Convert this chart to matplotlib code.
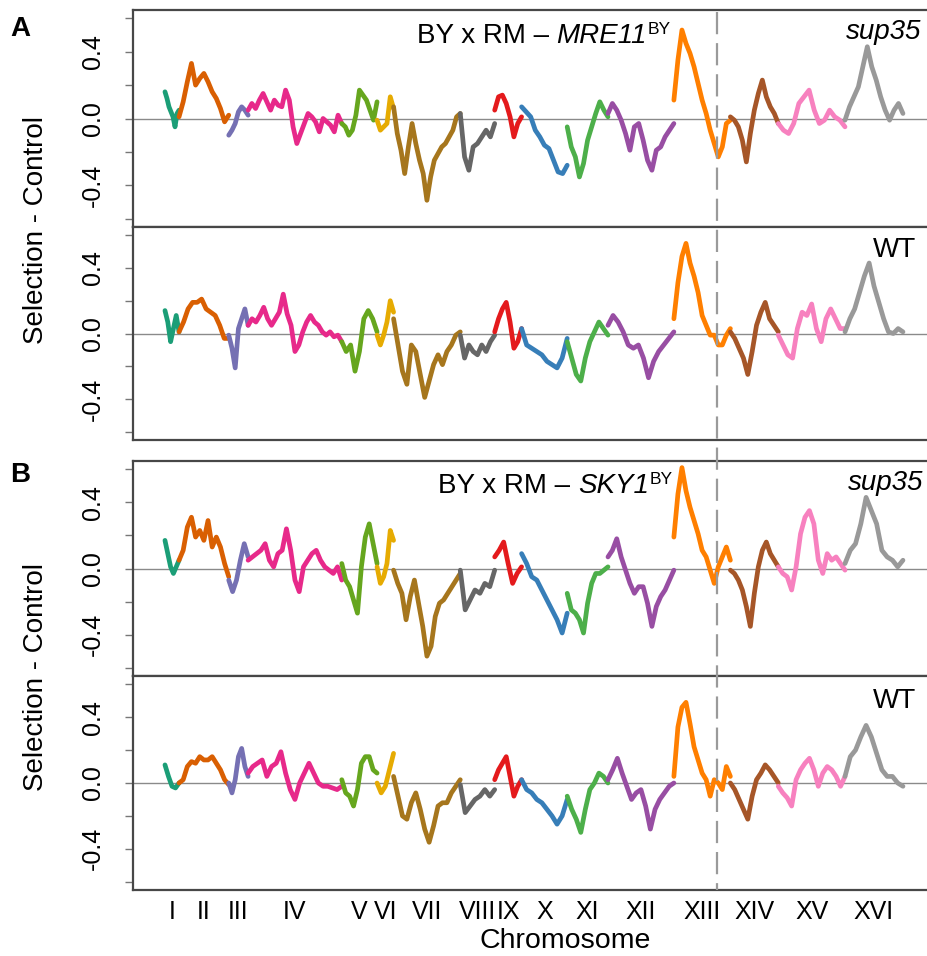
import matplotlib
matplotlib.use("Agg")
import matplotlib.pyplot as plt
import numpy as np
from matplotlib.lines import Line2D
from matplotlib.transforms import blended_transform_factory

plt.rcParams["font.family"] = ["Liberation Sans", "DejaVu Sans"]

# ---- chromosomes (S. cerevisiae, kb) ----
chrom_names = ["I", "II", "III", "IV", "V", "VI", "VII", "VIII", "IX", "X",
               "XI", "XII", "XIII", "XIV", "XV", "XVI"]
chrom_len_kb = [230, 813, 317, 1532, 577, 270, 1091, 563, 440, 746,
                667, 1078, 924, 784, 1091, 948]
chrom_colors = ["#1B9E77", "#D95F02", "#7570B3", "#E7298A", "#66A61E", "#E6AB02",
                "#A6761D", "#666666", "#E41A1C", "#377EB8", "#4DAF4A", "#984EA3",
                "#FF7F00", "#A65628", "#F781BF", "#999999"]

# marked locus on chromosome XIII (kb)
marker_chrom = "XIII"
marker_pos_kb = 700

# ---- allele frequency difference (selection - control) along each chromosome ----
mre11_sup35 = [
    [0.16, 0.12, 0.07, 0.04, 0.01, -0.05, 0.03, 0.05],
    [0.01, 0.10, 0.22, 0.33, 0.20, 0.24, 0.27, 0.22, 0.16, 0.12, 0.06, -0.02, 0.02],
    [-0.10, -0.07, -0.03, 0.04, 0.07, 0.05, 0.02],
    [0.05, 0.09, 0.06, 0.11, 0.15, 0.10, 0.05, 0.11, 0.08, 0.07, 0.17, 0.11, -0.05,
     -0.15, -0.09, -0.03, 0.03, 0.01, -0.02, -0.08, 0.00, -0.02, -0.04, -0.08, 0.02, -0.03],
    [-0.03, -0.05, -0.10, -0.07, 0.02, 0.17, 0.14, 0.11, 0.05, -0.01, 0.10],
    [-0.01, -0.07, -0.05, -0.03, 0.13, 0.06],
    [0.07, -0.09, -0.19, -0.33, -0.17, -0.03, -0.15, -0.25, -0.33, -0.49, -0.35, -0.25,
     -0.21, -0.17, -0.15, -0.11, -0.07, 0.01, 0.03],
    [0.03, -0.23, -0.31, -0.17, -0.15, -0.11, -0.07, -0.11, -0.03],
    [0.05, 0.13, 0.14, 0.09, 0.01, -0.11, -0.03, 0.01],
    [0.07, 0.04, 0.01, -0.07, -0.11, -0.16, -0.18, -0.25, -0.32, -0.33, -0.28],
    [-0.05, -0.17, -0.23, -0.35, -0.27, -0.13, -0.05, 0.03, 0.10, 0.05, 0.01],
    [0.03, 0.09, 0.05, -0.01, -0.09, -0.19, -0.05, -0.03, -0.13, -0.25, -0.31, -0.19,
     -0.17, -0.11, -0.07, -0.03],
    [0.11, 0.35, 0.53, 0.45, 0.39, 0.31, 0.21, 0.11, 0.03, -0.07, -0.15, -0.23, -0.17,
     -0.03, -0.01],
    [0.01, -0.01, -0.05, -0.13, -0.26, -0.09, 0.05, 0.15, 0.23, 0.13, 0.07, 0.03, -0.03],
    [-0.03, -0.07, -0.09, -0.03, 0.09, 0.13, 0.17, 0.05, -0.03, -0.01, 0.05, 0.01, -0.01, -0.05],
    [-0.01, 0.07, 0.13, 0.19, 0.31, 0.43, 0.31, 0.23, 0.13, 0.05, -0.01, 0.05, 0.09, 0.03],
]

mre11_wt = [
    [0.14, 0.07, -0.05, 0.03, 0.11, 0.01],
    [0.01, 0.07, 0.15, 0.19, 0.19, 0.21, 0.15, 0.13, 0.11, 0.05, -0.03, -0.03],
    [-0.01, -0.09, -0.21, 0.03, 0.09, 0.15, 0.05],
    [0.05, 0.09, 0.07, 0.11, 0.16, 0.09, 0.05, 0.09, 0.13, 0.24, 0.12, 0.05, -0.11,
     -0.07, 0.01, 0.07, 0.11, 0.07, 0.05, 0.01, -0.01, 0.01, -0.02, -0.01, -0.05],
    [-0.05, -0.11, -0.07, -0.23, -0.11, 0.09, 0.14, 0.09, 0.01],
    [-0.01, -0.07, -0.01, 0.07, 0.20, 0.13],
    [0.09, -0.07, -0.23, -0.31, -0.07, -0.11, -0.25, -0.39, -0.29, -0.19, -0.13, -0.19,
     -0.11, -0.07, -0.01, 0.01],
    [-0.01, -0.15, -0.07, -0.11, -0.13, -0.07, -0.11, -0.05, -0.01],
    [0.01, 0.09, 0.15, 0.19, 0.07, -0.09, -0.05, 0.03],
    [0.03, -0.07, -0.09, -0.11, -0.13, -0.17, -0.19, -0.21, -0.15, -0.03],
    [-0.05, -0.15, -0.25, -0.29, -0.15, -0.05, 0.01, 0.07, 0.03, -0.01],
    [0.05, 0.11, 0.07, 0.01, -0.07, -0.09, -0.07, -0.15, -0.27, -0.17, -0.11, -0.07, -0.03, 0.01],
    [0.09, 0.31, 0.47, 0.55, 0.43, 0.35, 0.25, 0.11, 0.05, -0.01, -0.01, -0.07, -0.07, -0.01, 0.03],
    [0.01, -0.03, -0.09, -0.15, -0.25, -0.11, 0.05, 0.13, 0.19, 0.09, 0.05, 0.01],
    [-0.01, -0.07, -0.13, -0.15, 0.03, 0.13, 0.11, 0.18, 0.03, -0.05, 0.09, 0.15, 0.09, 0.03, 0.03],
    [0.01, 0.09, 0.15, 0.25, 0.35, 0.43, 0.29, 0.19, 0.09, 0.01, 0.00, 0.03, 0.01],
]

sky1_sup35 = [
    [0.17, 0.09, 0.01, -0.03, 0.01, 0.05],
    [0.05, 0.11, 0.25, 0.31, 0.19, 0.23, 0.17, 0.29, 0.13, 0.19, 0.13, 0.03, -0.05],
    [-0.07, -0.14, -0.07, 0.05, 0.15, 0.07],
    [0.05, 0.07, 0.09, 0.11, 0.15, 0.05, 0.01, 0.09, 0.11, 0.24, 0.11, -0.07, -0.14,
     0.01, 0.05, 0.09, 0.11, 0.05, 0.01, -0.01, -0.03, 0.01, -0.07],
    [0.03, -0.07, -0.11, -0.19, -0.27, 0.01, 0.19, 0.27, 0.15, 0.03],
    [0.01, -0.09, -0.05, 0.03, 0.23, 0.17],
    [-0.01, -0.09, -0.15, -0.31, -0.17, -0.07, -0.21, -0.35, -0.53, -0.47, -0.29, -0.21,
     -0.19, -0.15, -0.11, -0.07, -0.03],
    [-0.01, -0.25, -0.19, -0.13, -0.15, -0.09, -0.11, -0.01],
    [0.07, 0.11, 0.16, 0.03, -0.09, -0.03, 0.01],
    [0.09, 0.03, -0.05, -0.07, -0.13, -0.19, -0.25, -0.31, -0.39, -0.27],
    [-0.15, -0.25, -0.27, -0.31, -0.39, -0.21, -0.09, -0.03, -0.03, -0.01, 0.01],
    [0.07, 0.11, 0.18, 0.07, -0.01, -0.09, -0.15, -0.11, -0.11, -0.21, -0.35, -0.23,
     -0.17, -0.13, -0.07, -0.01],
    [0.19, 0.45, 0.61, 0.47, 0.37, 0.29, 0.21, 0.11, 0.07, -0.01, -0.09, 0.01, 0.07, 0.13, 0.05],
    [-0.01, -0.03, -0.07, -0.13, -0.23, -0.35, -0.15, 0.01, 0.11, 0.16, 0.09, 0.05, 0.01],
    [0.01, -0.03, -0.05, -0.13, 0.01, 0.21, 0.31, 0.35, 0.27, 0.05, -0.03, 0.09, 0.05,
     0.07, 0.03, -0.01],
    [0.03, 0.11, 0.15, 0.27, 0.43, 0.35, 0.27, 0.11, 0.07, 0.05, 0.01, 0.05],
]

sky1_wt = [
    [0.11, 0.04, -0.02, -0.03, 0.00],
    [0.00, 0.02, 0.10, 0.13, 0.12, 0.16, 0.14, 0.14, 0.16, 0.12, 0.08, 0.02, -0.01],
    [0.00, -0.06, 0.02, 0.16, 0.21, 0.10, 0.04],
    [0.06, 0.10, 0.12, 0.14, 0.04, 0.10, 0.12, 0.19, 0.06, -0.04, -0.10, 0.00, 0.06,
     0.12, 0.06, 0.00, -0.02, -0.02, -0.03, -0.04, -0.02],
    [0.02, -0.06, -0.08, -0.14, -0.04, 0.12, 0.16, 0.16, 0.08, 0.06],
    [0.00, -0.06, -0.02, 0.08, 0.18],
    [0.04, -0.08, -0.20, -0.22, -0.12, -0.06, -0.16, -0.28, -0.36, -0.26, -0.14, -0.12,
     -0.12, -0.06, -0.02, 0.02],
    [-0.01, -0.18, -0.14, -0.10, -0.08, -0.04, -0.08, -0.04],
    [0.02, 0.08, 0.12, 0.16, 0.04, -0.08, -0.02, 0.02],
    [0.02, -0.04, -0.06, -0.10, -0.12, -0.16, -0.20, -0.25, -0.20, -0.10],
    [-0.08, -0.16, -0.22, -0.30, -0.16, -0.04, 0.00, 0.06, 0.04, 0.00],
    [0.02, 0.08, 0.15, 0.06, -0.02, -0.10, -0.06, -0.04, -0.14, -0.28, -0.16, -0.10,
     -0.06, -0.02, 0.00],
    [0.04, 0.34, 0.46, 0.49, 0.36, 0.22, 0.14, 0.06, 0.02, -0.08, 0.02, 0.00, -0.04, 0.10, 0.04],
    [0.00, -0.04, -0.10, -0.16, -0.22, -0.08, 0.02, 0.06, 0.11, 0.08, 0.04, 0.00],
    [-0.02, -0.06, -0.09, -0.14, 0.02, 0.08, 0.12, 0.15, 0.08, -0.02, 0.06, 0.10, 0.08,
     0.04, -0.02, 0.04],
    [0.04, 0.16, 0.20, 0.28, 0.35, 0.28, 0.18, 0.08, 0.04, 0.04, 0.00, -0.02],
]

panel_genes = ["MRE11", "SKY1"]
condition_labels = ["sup35", "WT"]

# ---- layout ----
W, H = 928, 956
fig = plt.figure(figsize=(W / 100, H / 100), dpi=100)

def px_axes(left, top, right, bottom):
    return fig.add_axes([left / W, 1 - bottom / H, (right - left) / W, (bottom - top) / H])

ax_a1 = px_axes(133, 10, 938, 227)
ax_a2 = px_axes(133, 227, 938, 440)
ax_b1 = px_axes(133, 461, 938, 676)
ax_b2 = px_axes(133, 676, 938, 890)
axes = [ax_a1, ax_a2, ax_b1, ax_b2]
panel_data = [mre11_sup35, mre11_wt, sky1_sup35, sky1_wt]

starts = np.concatenate([[0], np.cumsum(chrom_len_kb)[:-1]])
ends = starts + np.array(chrom_len_kb)
mids = (starts + ends) / 2.0

frame_col = "#474747"
for ax, data in zip(axes, panel_data):
    ax.axhline(0, color="#8a8a8a", lw=1.0, zorder=1)
    for i, vals in enumerate(data):
        xs = np.linspace(starts[i], ends[i], len(vals))
        ax.plot(xs, vals, color=chrom_colors[i], lw=3.4, solid_joinstyle="round",
                solid_capstyle="round", zorder=2)
    ax.set_xlim(-523, 12644)
    ax.set_ylim(-0.65, 0.65)
    ax.set_yticks([-0.6, -0.4, -0.2, 0.0, 0.2, 0.4, 0.6])
    ax.set_yticklabels(["", "-0.4", "", "0.0", "", "0.4", ""], rotation=90, va="center")
    ax.tick_params(axis="y", length=6, width=1.0, color="#777777", pad=14,
                   labelsize=18, direction="out")
    for side in ["left", "top", "bottom"]:
        ax.spines[side].set_color(frame_col)
        ax.spines[side].set_linewidth(1.6)
    ax.spines["right"].set_visible(False)
    ax.set_xticks(mids)
    if ax is ax_b2:
        ax.set_xticklabels(chrom_names)
        ax.tick_params(axis="x", length=0, pad=7, labelsize=18)
    else:
        ax.set_xticklabels([])
        ax.tick_params(axis="x", length=0)

# dashed line through every panel at the marked locus
mpos = starts[chrom_names.index(marker_chrom)] + marker_pos_kb
trans = blended_transform_factory(ax_b2.transData, fig.transFigure)
fig.add_artist(Line2D([mpos, mpos], [1 - 12 / H, 1 - 890 / H], transform=trans,
                      color="#9a9a9a", lw=1.6, dashes=(10, 4), zorder=5))

# panel headers: "BY x RM – GENE^BY", built right-to-left from the superscript
renderer = fig.canvas.get_renderer()
ann_size = 20


def header(right_px, base_px, gene):
    sup = fig.text(right_px / W, 1 - (base_px - 9) / H, "BY", fontsize=12.5,
                   ha="right", va="baseline")
    x = right_px - sup.get_window_extent(renderer).width - 1
    g = fig.text(x / W, 1 - base_px / H, gene, fontsize=ann_size, style="italic",
                 ha="right", va="baseline")
    x -= g.get_window_extent(renderer).width
    fig.text(x / W, 1 - base_px / H, "BY x RM – ", fontsize=ann_size,
             ha="right", va="baseline")


header(671, 43, panel_genes[0])
header(673, 493, panel_genes[1])

fig.text(921 / W, 1 - 39 / H, condition_labels[0], style="italic", fontsize=ann_size,
         ha="right", va="baseline")
fig.text(923 / W, 1 - 490 / H, condition_labels[0], style="italic", fontsize=ann_size,
         ha="right", va="baseline")
fig.text(916 / W, 1 - 257 / H, condition_labels[1], fontsize=ann_size, ha="right", va="baseline")
fig.text(916 / W, 1 - 708 / H, condition_labels[1], fontsize=ann_size, ha="right", va="baseline")

fig.text(10 / W, 1 - 36 / H, "A", fontsize=20, fontweight="bold", ha="left", va="baseline")
fig.text(10 / W, 1 - 482 / H, "B", fontsize=20, fontweight="bold", ha="left", va="baseline")

fig.text(36 / W, 1 - 230 / H, "Selection - Control", rotation=90, ha="center", va="center",
         fontsize=20)
fig.text(36 / W, 1 - 677 / H, "Selection - Control", rotation=90, ha="center", va="center",
         fontsize=20)
fig.text(565 / W, 1 - 941 / H, "Chromosome", ha="center", va="center", fontsize=20.5)

fig.savefig("out.png", dpi=100)
